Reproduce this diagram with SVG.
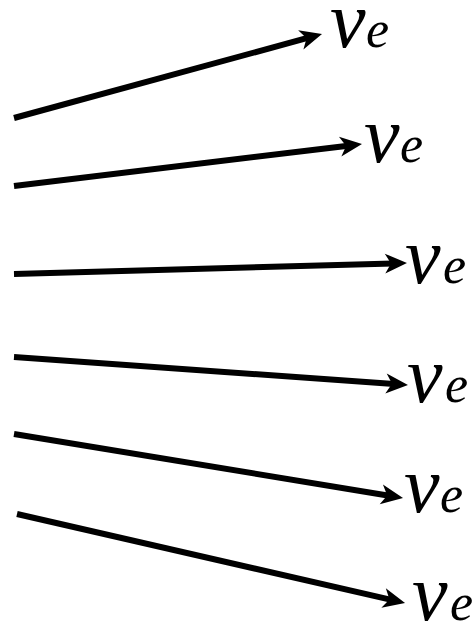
<svg xmlns="http://www.w3.org/2000/svg" width="474" height="626" viewBox="0 0 474 626">
<style>
.c{stroke:#000;stroke-width:6;fill:none;marker-end:url(#ah)}
</style>
<defs>
<marker id="ah" markerUnits="userSpaceOnUse" markerWidth="30" markerHeight="24" viewBox="-2 -12 30 24" refX="8" refY="0" orient="auto">
<path d="M0,-10 L22,0 L0,10 L6,0 Z" fill="#000"/>
</marker>
</defs>
<g id="connectors">
<line class="c" x1="14" y1="118" x2="308.5" y2="37.7"/>
<line class="c" x1="14" y1="186" x2="348.1" y2="145.7"/>
<line class="c" x1="14" y1="274" x2="393" y2="263.4"/>
<line class="c" x1="14" y1="357" x2="394" y2="384"/>
<line class="c" x1="14" y1="434" x2="389.2" y2="495.7"/>
<line class="c" x1="17" y1="514" x2="391.4" y2="599.9"/>
</g>
<g font-family="Liberation Serif, serif" font-style="italic" fill="#000">
<g id="label1"><text x="330" y="47"><tspan font-size="80">ν</tspan><tspan font-size="52" x="366">e</tspan></text></g>
<g id="label2"><text x="364" y="162"><tspan font-size="80">ν</tspan><tspan font-size="52" x="400">e</tspan></text></g>
<g id="label3"><text x="405" y="283"><tspan font-size="80">ν</tspan><tspan font-size="52" x="443">e</tspan></text></g>
<g id="label4"><text x="407" y="402"><tspan font-size="80">ν</tspan><tspan font-size="52" x="445">e</tspan></text></g>
<g id="label5"><text x="404" y="512"><tspan font-size="80">ν</tspan><tspan font-size="52" x="440">e</tspan></text></g>
<g id="label6"><text x="412" y="620"><tspan font-size="80">ν</tspan><tspan font-size="52" x="450">e</tspan></text></g>
</g>
</svg>
